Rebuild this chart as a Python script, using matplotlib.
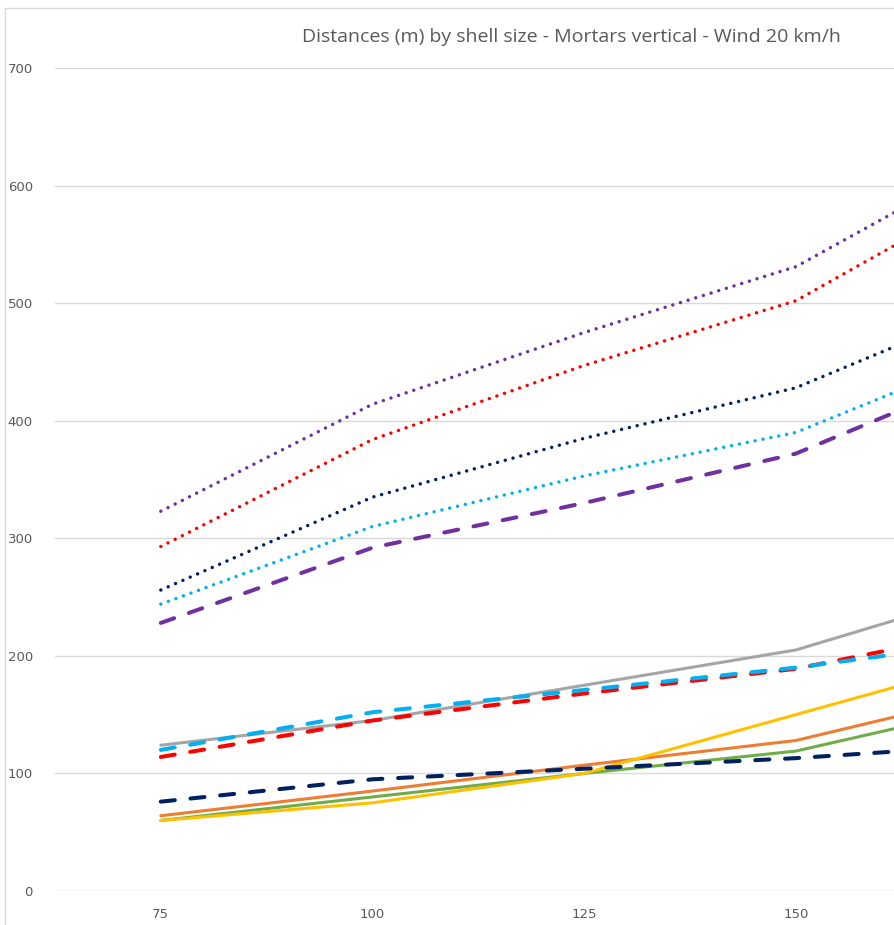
import matplotlib.pyplot as plt
from matplotlib.lines import Line2D

# shell sizes (mm)
sizes = [75, 100, 125, 150, 175]

# dotted series
purple_dot = [323, 414, 475, 531, 630]
red_dot = [293, 384, 447, 502, 603]
navy_dot = [256, 335, 385, 428, 503]
cyan_dot = [244, 310, 353, 390, 463]

# dashed series
purple_dash = [228, 292, 330, 372, 447]
cyan_dash = [120, 152, 171, 190, 214]
red_dash = [114, 145, 168, 189, 225]
navy_dash = [76, 95, 104, 113, 125]

# solid series
gray_solid = [124, 145, 175, 205, 259]
yellow_solid = [60, 75, 100, 150, 200]
orange_solid = [64, 85, 107, 128, 171]
green_solid = [60, 80, 100, 119, 160]

W, H = 894, 925
fig = plt.figure(figsize=(W / 100, H / 100), dpi=100)
ax = fig.add_axes([55 / W, (H - 891) / H, 1 - 55 / W, (891 - 68) / H])

dot = dict(lw=2.5, linestyle=(0, (0.01, 2.3)), dash_capstyle='round')
dash = dict(lw=2.9, linestyle=(0, (3.5, 3.9)), dash_capstyle='round')
solid = dict(lw=2.2, solid_capstyle='round')

ax.plot(sizes, gray_solid, color='#A5A5A5', **solid)
ax.plot(sizes, orange_solid, color='#ED7D31', **solid)
ax.plot(sizes, green_solid, color='#70AD47', **solid)
ax.plot(sizes, yellow_solid, color='#FFC000', **solid)

ax.plot(sizes, navy_dash, color='#002060', **dash)
ax.plot(sizes, red_dash, color='#FF0000', **dash)
ax.plot(sizes, cyan_dash, color='#00B0F0', **dash)
ax.plot(sizes, purple_dash, color='#7030A0', **dash)

ax.plot(sizes, cyan_dot, color='#00B0F0', **dot)
ax.plot(sizes, navy_dot, color='#002060', **dot)
ax.plot(sizes, red_dot, color='#FF0000', **dot)
ax.plot(sizes, purple_dot, color='#7030A0', **dot)

ax.set_xlim(62.5, 161.6)
ax.set_ylim(0, 700)
ax.set_xticks([75, 100, 125, 150])
ax.set_yticks(range(0, 701, 100))
ax.tick_params(length=0, labelsize=9.5, labelcolor='#595959')
ax.tick_params(axis='y', pad=16)
ax.tick_params(axis='x', pad=12)
ax.grid(axis='y', color='#D9D9D9', lw=1)
ax.set_axisbelow(True)
for s in ax.spines.values():
    s.set_visible(False)

fig.text(571 / W, 1 - 37 / H, 'Distances (m) by shell size - Mortars vertical - Wind 20 km/h',
         ha='center', va='center', fontsize=14, color='#595959', family='Open Sans')

# chart area border
fig.add_artist(Line2D([5 / W, 5 / W], [0, 1 - 8 / H], color='#D9D9D9', lw=1))
fig.add_artist(Line2D([5 / W, 1], [1 - 8 / H, 1 - 8 / H], color='#D9D9D9', lw=1))

fig.savefig('out.png', dpi=100)
